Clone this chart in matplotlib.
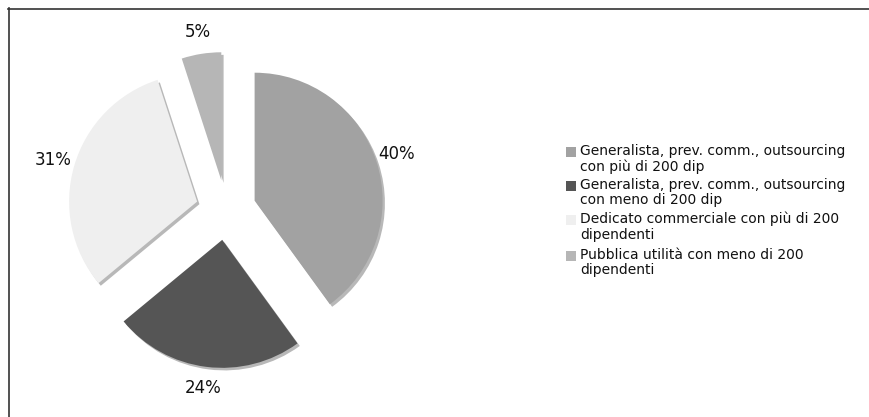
import matplotlib
matplotlib.use("Agg")
import matplotlib.pyplot as plt
from matplotlib.patches import Rectangle
from matplotlib.lines import Line2D

categories = [
    "Generalista, prev. comm., outsourcing\ncon più di 200 dip",
    "Generalista, prev. comm., outsourcing\ncon meno di 200 dip",
    "Dedicato commerciale con più di 200\ndipendenti",
    "Pubblica utilità con meno di 200\ndipendenti",
]
shares = [40, 24, 31, 5]
colors = ["#a2a2a2", "#555555", "#efefef", "#b6b6b6"]

W, H, DPI = 869, 417, 100
fig = plt.figure(figsize=(W / DPI, H / DPI), dpi=DPI)
fig.patch.set_facecolor("white")

# Axes spanning the whole figure, one data unit = pie radius in pixels
R = 128.0
cx, cy = 226.0, 210.0
ax = fig.add_axes([0, 0, 1, 1])
explode = [0.235] * len(shares)

# soft drop shadow under each wedge
ax.pie(shares, explode=explode, startangle=90, counterclock=False,
       colors=["#b8b8b8"] * len(shares), center=(0.018, -0.02),
       wedgeprops=dict(linewidth=0))

wedges, _, autotexts = ax.pie(
    shares, explode=explode, startangle=90, counterclock=False,
    colors=colors, autopct=lambda p: f"{p:.0f}%", pctdistance=1.17,
    wedgeprops=dict(linewidth=0), textprops=dict(fontsize=12, color="#111111"))

ax.set_xlim(-cx / R, (W - cx) / R)
ax.set_ylim(-(H - cy) / R, cy / R)
ax.set_aspect("equal", adjustable="box")
ax.axis("off")

# legend drawn in pixel coordinates
def px(x, y):
    return x / W, 1 - y / H

legend_top = [152, 186, 220, 256]
for lab, col, y in zip(categories, colors, legend_top):
    x0, y0 = px(566, y + 5)
    fig.patches.append(Rectangle((x0, y0), 10 / W, 10 / H, transform=fig.transFigure,
                                 facecolor=col, edgecolor="none"))
    tx, ty = px(580, y - 8)
    fig.text(tx, ty, lab, fontsize=10, va="top", ha="left", color="#111111",
             linespacing=1.12)

# frame lines along top and left edge
fig.add_artist(Line2D([8 / W, 1], [1 - 8.5 / H, 1 - 8.5 / H], color="#333333",
                      linewidth=1.2, transform=fig.transFigure))
fig.add_artist(Line2D([8.5 / W, 8.5 / W], [0, 1 - 8 / H], color="#333333",
                      linewidth=1.2, transform=fig.transFigure))

fig.savefig("out.png", dpi=DPI, facecolor="white")
